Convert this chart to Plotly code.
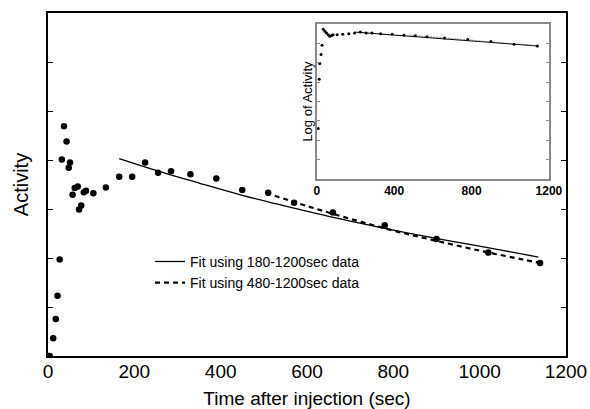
import plotly.graph_objects as go

# ---- main panel data ----
time_s = [0, 4, 12, 18, 22, 27, 32, 37, 43, 48, 51, 57, 62, 69, 72, 77, 83, 88,
          105, 134, 165, 195, 225, 255, 285, 330, 390, 450, 510, 570, 660, 780,
          900, 1020, 1140]
activity = [0, 0, 0.36, 0.755, 1.23, 1.97, 4.01, 4.69, 4.38, 3.84, 3.95, 3.29,
            3.43, 3.46, 2.99, 3.07, 3.34, 3.37, 3.32, 3.44, 3.66, 3.66, 3.95,
            3.74, 3.77, 3.71, 3.62, 3.39, 3.33, 3.13, 2.93, 2.67, 2.39, 2.11, 1.90]

fit180_t = [165, 250, 350, 450, 550, 650, 750, 850, 950, 1050, 1136]
fit180_y = [4.03, 3.79, 3.53, 3.28, 3.06, 2.85, 2.66, 2.48, 2.32, 2.16, 2.02]

fit480_t = [505, 600, 700, 800, 900, 1000, 1100, 1140]
fit480_y = [3.33, 3.06, 2.80, 2.56, 2.35, 2.15, 1.97, 1.90]

# ---- inset (log) data ----
log_t = [7, 12, 15, 22, 27, 33, 42, 50, 59, 67, 76, 84, 105, 134, 165, 195,
         225, 255, 285, 330, 390, 450, 510, 570, 660, 780, 900, 1020, 1140]
log_y = [2.61, 5.15, 5.96, 6.43, 6.9, 7.73, 7.63, 7.54, 7.44, 7.37, 7.40, 7.45,
         7.44, 7.47, 7.50, 7.54, 7.58, 7.54, 7.53, 7.50, 7.47, 7.42, 7.39, 7.34,
         7.28, 7.20, 7.10, 6.96, 6.86]
logfit180_t = [200, 1146]
logfit180_y = [7.58, 6.86]
logfit480_t = [480, 1146]
logfit480_y = [7.43, 6.87]

legend_labels = ["Fit using 180-1200sec data", "Fit using 480-1200sec data"]

FONT = "Liberation Sans, Arial, Helvetica, sans-serif"

fig = go.Figure()
fig.add_trace(go.Scatter(x=time_s, y=activity, mode="markers",
                         marker=dict(color="black", size=6.5), showlegend=False,
                         xaxis="x", yaxis="y"))
fig.add_trace(go.Scatter(x=fit180_t, y=fit180_y, mode="lines", line_shape="spline",
                         line=dict(color="black", width=1.3),
                         name=legend_labels[0], xaxis="x", yaxis="y"))
fig.add_trace(go.Scatter(x=fit480_t, y=fit480_y, mode="lines", line_shape="spline",
                         line=dict(color="black", width=2.2, dash="5px,4px"),
                         name=legend_labels[1], xaxis="x", yaxis="y"))

fig.add_trace(go.Scatter(x=log_t, y=log_y, mode="markers",
                         marker=dict(color="black", size=3), showlegend=False,
                         xaxis="x2", yaxis="y2"))
fig.add_trace(go.Scatter(x=logfit180_t, y=logfit180_y, mode="lines",
                         line=dict(color="black", width=1), showlegend=False,
                         xaxis="x2", yaxis="y2"))
fig.add_trace(go.Scatter(x=logfit480_t, y=logfit480_y, mode="lines",
                         line=dict(color="#555", width=1.2, dash="1px,2px"),
                         showlegend=False, xaxis="x2", yaxis="y2"))

fig.update_layout(
    width=590, height=409,
    margin=dict(l=48, r=24, t=13, b=53, autoexpand=False),
    paper_bgcolor="white", plot_bgcolor="white",
    font=dict(family=FONT, color="black"),
    showlegend=True,
    legend=dict(x=0.197, y=0.321, xanchor="left", yanchor="top",
                bgcolor="rgba(0,0,0,0)", font=dict(size=14, family=FONT),
                itemwidth=30, tracegroupgap=0),
    xaxis=dict(domain=[0, 1], range=[0, 1200], dtick=200, showgrid=False,
               zeroline=False, showline=True, linecolor="black", linewidth=2,
               mirror=True, ticks="", tickfont=dict(size=19), automargin=False,
               ticklabelstandoff=-3,
               title=dict(text="Time after injection (sec)", font=dict(size=19),
                          standoff=12)),
    yaxis=dict(domain=[0, 1], range=[0, 7], dtick=1, showgrid=False,
               zeroline=False, showline=True, linecolor="black", linewidth=2,
               mirror="ticks", ticks="inside", ticklen=5, tickcolor="black",
               tickwidth=1, showticklabels=False, automargin=False,
               title=dict(text="Activity", font=dict(size=20), standoff=12)),
    xaxis2=dict(domain=[0.519, 0.967], anchor="y2", range=[0, 1200], dtick=400,
                showgrid=False, zeroline=False, showline=True,
                linecolor="#8a8a8a", linewidth=1.5, mirror=True, ticks="",
                tickfont=dict(size=12, weight="bold"), automargin=False),
    yaxis2=dict(domain=[0.516, 0.968], anchor="x2", range=[0, 8], dtick=1,
                showgrid=False, zeroline=False, showline=True,
                linecolor="#8a8a8a", linewidth=1.5, mirror="ticks",
                ticks="inside", ticklen=3, tickcolor="#8a8a8a", tickwidth=1,
                showticklabels=False, automargin=False,
                title=dict(text="Log of Activity", font=dict(size=13), standoff=0)),
)

fig.write_html("out.html", config={"displayModeBar": False},
               post_script="document.body.style.margin='0';document.body.style.overflow='hidden';")
